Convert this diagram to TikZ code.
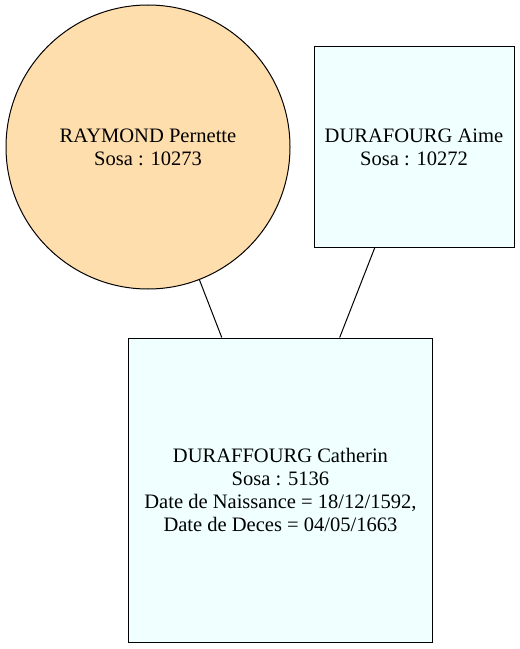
\documentclass[tikz,border=0pt]{standalone}
\usepackage{fontspec}
\setmainfont{Liberation Serif}
\definecolor{peach}{HTML}{FFDEAD}
\definecolor{azurbox}{HTML}{F0FFFF}
\begin{document}
\begin{tikzpicture}[x=0.75pt,y=-0.75pt,
  line width=0.75pt,
  person/.style={draw=black,align=center,inner sep=0pt,
    font=\fontsize{15.4}{17.25}\selectfont},
  femme/.style={person,circle,fill=peach,minimum size=213pt},
  homme/.style={person,rectangle,fill=azurbox,minimum width=#1,minimum height=#1},
  lien/.style={draw=black}]
\useasboundingbox[fill=white] (0,0) rectangle (520,649);
\node[femme] (raymond) at (148,147) {RAYMOND Pernette\\Sosa : 10273};
\node[homme=150pt] (aime) at (414,147) {DURAFOURG Aime\\Sosa : 10272};
\node[homme=228pt] (catherin) at (280.5,490) {DURAFFOURG Catherin\\Sosa : 5136\\Date de Naissance = 18/12/1592,\\Date de Deces = 04/05/1663};
\draw[lien] (raymond) -- (catherin);
\draw[lien] (aime) -- (catherin);
\end{tikzpicture}
\end{document}
